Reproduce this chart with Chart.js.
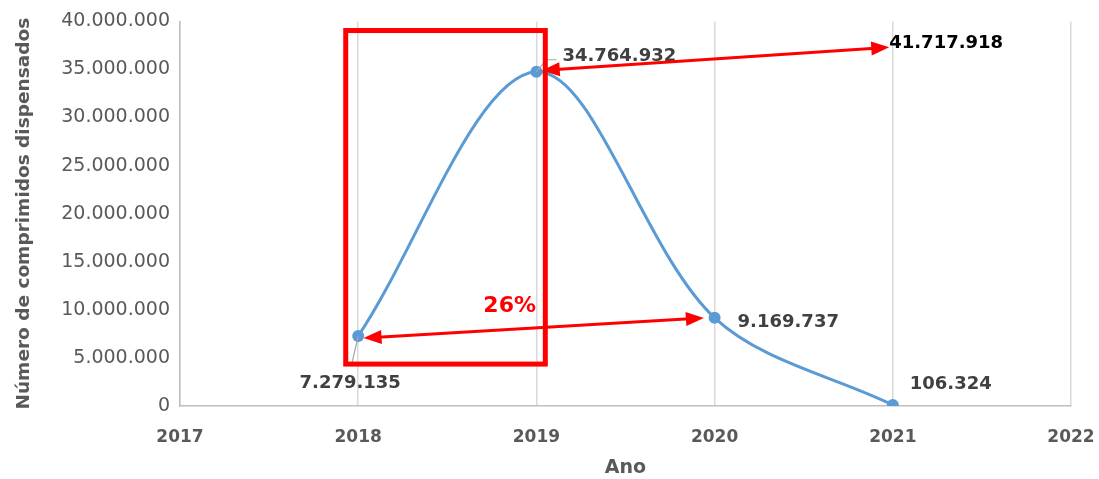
<!DOCTYPE html>
<html>
<head>
<meta charset="utf-8">
<script src="https://cdn.jsdelivr.net/npm/chart.js@4/dist/chart.umd.min.js"></script>
<style>
html,body{margin:0;padding:0;background:#fff;}
#wrap{width:1099px;height:479px;}
</style>
</head>
<body>
<div id="wrap"><canvas id="c" width="1099" height="479"></canvas></div>
<script>
// ---- data ----
const years = [2018, 2019, 2020, 2021];
const comprimidos = [7279135, 34764932, 9169737, 106324];
const xTicks = [2017, 2018, 2019, 2020, 2021, 2022];
const yTicks = [0, 5000000, 10000000, 15000000, 20000000, 25000000, 30000000, 35000000, 40000000];
const totalLabel = "41.717.918";
const pctLabel = "26%";
// annotation geometry in data units
const boxX = [2017.93, 2019.05];
const boxY = [4360000, 39050000];
const arrowTop = [[2019.03, 34900000], [2020.98, 37300000]];
const arrowBottom = [[2018.03, 7060000], [2019.94, 9150000]];
const totalPos = [2020.98, 37700000];
const pctPos = [2018.85, 10400000];

function fmt(v){ return String(Math.round(v)).replace(/\B(?=(\d{3})+(?!\d))/g, "."); }

const overlay = {
  id: 'overlay',
  afterDatasetsDraw(chart){
    const ctx = chart.ctx, xs = chart.scales.x, ys = chart.scales.y;
    const px = v => xs.getPixelForValue(v), py = v => ys.getPixelForValue(v);
    const meta = chart.getDatasetMeta(0);
    const pts = meta.data.map(p => ({x:p.x, y:p.y}));
    ctx.save();
    // leader lines
    ctx.strokeStyle = '#a6a6a6'; ctx.lineWidth = 1.2;
    ctx.beginPath();
    ctx.moveTo(pts[1].x, pts[1].y); ctx.lineTo(pts[1].x+10, pts[1].y-12); ctx.lineTo(pts[1].x+20, pts[1].y-12);
    ctx.moveTo(pts[0].x, pts[0].y); ctx.lineTo(pts[0].x-6, pts[0].y+26);
    ctx.stroke();
    // data labels
    ctx.font = 'bold 18px "DejaVu Sans"';
    ctx.fillStyle = '#404040';
    ctx.textBaseline = 'middle';
    ctx.textAlign = 'center';
    ctx.fillText(fmt(comprimidos[0]), pts[0].x-8, pts[0].y+47);
    ctx.textAlign = 'left';
    ctx.fillText(fmt(comprimidos[1]), pts[1].x+26, pts[1].y-15);
    ctx.fillText(fmt(comprimidos[2]), pts[2].x+23, pts[2].y+4);
    ctx.fillText(fmt(comprimidos[3]), pts[3].x+17, pts[3].y-21);
    ctx.fillStyle = '#000';
    ctx.fillText(totalLabel, px(totalPos[0]), py(totalPos[1]));
    // red box
    ctx.strokeStyle = '#ff0000'; ctx.lineWidth = 5;
    ctx.strokeRect(px(boxX[0]), py(boxY[1]), px(boxX[1])-px(boxX[0]), py(boxY[0])-py(boxY[1]));
    // arrows
    function arrow(a, b){
      const x1=px(a[0]), y1=py(a[1]), x2=px(b[0]), y2=py(b[1]);
      const ang = Math.atan2(y2-y1, x2-x1);
      const L = 18, W = 7;
      ctx.strokeStyle = '#ff0000'; ctx.fillStyle = '#ff0000'; ctx.lineWidth = 3;
      ctx.beginPath();
      ctx.moveTo(x1+Math.cos(ang)*L*0.8, y1+Math.sin(ang)*L*0.8);
      ctx.lineTo(x2-Math.cos(ang)*L*0.8, y2-Math.sin(ang)*L*0.8);
      ctx.stroke();
      function head(x, y, dir){
        ctx.beginPath();
        ctx.moveTo(x, y);
        ctx.lineTo(x - Math.cos(dir)*L - Math.sin(dir)*W, y - Math.sin(dir)*L + Math.cos(dir)*W);
        ctx.lineTo(x - Math.cos(dir)*L + Math.sin(dir)*W, y - Math.sin(dir)*L - Math.cos(dir)*W);
        ctx.closePath(); ctx.fill();
      }
      head(x2, y2, ang);
      head(x1, y1, ang+Math.PI);
    }
    arrow(arrowTop[0], arrowTop[1]);
    arrow(arrowBottom[0], arrowBottom[1]);
    // percentage
    ctx.font = 'bold 22px "DejaVu Sans"';
    ctx.fillStyle = '#ff0000';
    ctx.textAlign = 'center';
    ctx.fillText(pctLabel, px(pctPos[0]), py(pctPos[1]));
    ctx.restore();
  }
};

new Chart(document.getElementById('c'), {
  type: 'line',
  data: {
    datasets: [{
      data: years.map((y,i)=>({x:y, y:comprimidos[i]})),
      borderColor: '#5b9bd5',
      backgroundColor: '#5b9bd5',
      borderWidth: 3,
      pointRadius: 6,
      pointBorderWidth: 0,
      pointBackgroundColor: '#5b9bd5',
      tension: 0.33,
      fill: false
    }]
  },
  options: {
    responsive: false,
    animation: false,
    devicePixelRatio: 1,
    layout: { padding: { left: 9, right: 28, top: 21, bottom: 0 } },
    plugins: { legend: { display: false }, tooltip: { enabled: false } },
    scales: {
      x: {
        type: 'linear', min: 2017, max: 2022,
        afterBuildTicks(s){ s.ticks = xTicks.map(v=>({value:v})); },
        afterFit(s){ s.height = 73; s.paddingRight = 0; s.paddingLeft = 0; },
        grid: { color: '#d9d9d9', lineWidth: 1.5, drawTicks: false },
        border: { color: '#bfbfbf', width: 1.5 },
        ticks: { padding: 21, color: '#595959', font: { family: 'DejaVu Sans', size: 17, weight: 'bold' }, callback: v => String(v) },
        title: { display: true, text: 'Ano', color: '#595959', padding: { top: 12, bottom: 0 }, font: { family: 'DejaVu Sans', size: 19, weight: 'bold' } }
      },
      y: {
        min: 0, max: 40000000,
        afterBuildTicks(s){ s.ticks = yTicks.map(v=>({value:v})); },
        afterFit(s){ s.width = 171; },
        grid: { color: 'rgba(0,0,0,0)', drawTicks: false },
        border: { color: '#bfbfbf', width: 1.5 },
        ticks: { padding: 10, color: '#595959', font: { family: 'DejaVu Sans', size: 19 }, callback: v => fmt(v) },
        title: { display: true, text: 'Número de comprimidos dispensados', color: '#595959', padding: { top: 4, bottom: 0 }, font: { family: 'DejaVu Sans', size: 18.5, weight: 'bold' } }
      }
    }
  },
  plugins: [overlay]
});
</script>
</body>
</html>
